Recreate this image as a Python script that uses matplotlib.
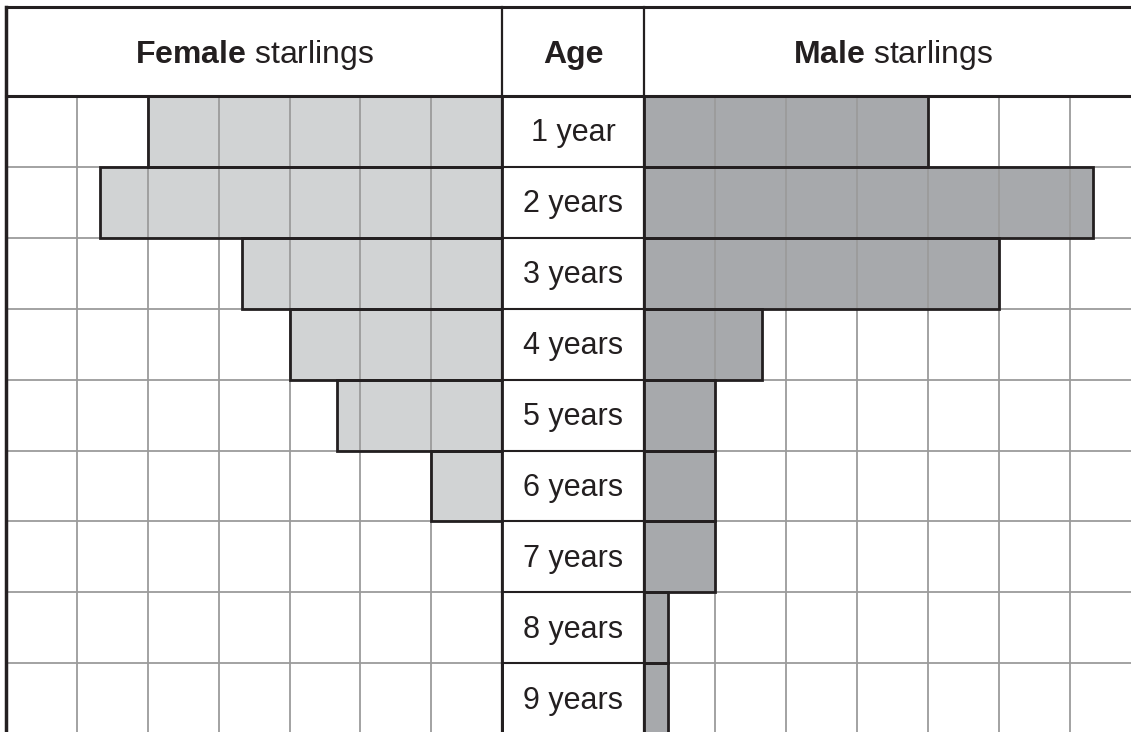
import matplotlib.pyplot as plt
import numpy as np

plt.rcParams['font.family'] = ['Liberation Sans', 'DejaVu Sans']
plt.rcParams['mathtext.fontset'] = 'custom'
plt.rcParams['mathtext.rm'] = 'Liberation Sans'
plt.rcParams['mathtext.bf'] = 'Liberation Sans:bold'

ages = ['1 year', '2 years', '3 years', '4 years', '5 years',
        '6 years', '7 years', '8 years', '9 years']
female = [15, 17, 11, 9, 7, 3, 0, 0, 0]
male = [12, 19, 15, 5, 3, 3, 3, 1, 1]

CELL = 3          # starlings per grid square
AGE_W = 2 * CELL  # width of the age column
N_LEFT = 7        # grid squares on the female side

ink = '#231f20'
grid_c = '#9b9b9b'
f_col = '#d1d3d4'
m_col = '#a7a9ac'

if __name__ == '__main__':
    fig = plt.figure(figsize=(11.31, 7.32), dpi=100)
    ax = fig.add_axes([0, 0, 1, 1])
    ax.axis('off')

    left = -N_LEFT * CELL
    ax.set_xlim(-21.25, 26.60)
    ax.set_ylim(8.97, -1.354)
    top = -1.255
    bottom = 9.2
    rows = np.arange(len(ages)) + 0.5

    # bar fills
    ax.barh(rows, [-v for v in female], left=0, height=1, color=f_col, zorder=1)
    ax.barh(rows, male, left=AGE_W, height=1, color=m_col, zorder=1)

    # grid
    for gx in np.arange(left + CELL, 0, CELL):
        ax.plot([gx, gx], [0, bottom], color=grid_c, lw=1.3, zorder=2)
    for gx in np.arange(AGE_W + CELL, 30, CELL):
        ax.plot([gx, gx], [0, bottom], color=grid_c, lw=1.3, zorder=2)
    for gy in range(1, len(ages) + 1):
        ax.plot([left, 0], [gy, gy], color=grid_c, lw=1.3, zorder=2)
        ax.plot([AGE_W, 30], [gy, gy], color=grid_c, lw=1.3, zorder=2)
        ax.plot([0, AGE_W], [gy, gy], color=ink, lw=1.5, zorder=3)

    # bar outlines
    ax.barh(rows, [-v for v in female], left=0, height=1, fill=False,
            edgecolor=ink, lw=2, zorder=4)
    ax.barh(rows, male, left=AGE_W, height=1, fill=False,
            edgecolor=ink, lw=2, zorder=4)

    # frame
    ax.plot([left, 30], [top, top], color=ink, lw=2.2, zorder=5)
    ax.plot([left, 30], [0, 0], color=ink, lw=2.2, zorder=5)
    ax.plot([left, left], [top, bottom], color=ink, lw=2.5, zorder=5)
    ax.plot([0, 0], [top, bottom], color=ink, lw=1.6, zorder=5)
    ax.plot([AGE_W, AGE_W], [top, bottom], color=ink, lw=1.6, zorder=5)

    # header
    hs = 23
    fs = 22
    hy = -0.465
    ax.text(left / 2, hy, r'$\bf{Female}$ starlings', ha='center', va='baseline',
            fontsize=hs, color=ink)
    ax.text(AGE_W / 2, hy, 'Age', ha='center', va='baseline', fontsize=hs,
            color=ink, fontweight='bold')
    ax.text(16.55, hy, r'$\bf{Male}$ starlings',
            ha='center', va='baseline', fontsize=hs, color=ink)

    for r, lab in zip(rows, ages):
        ax.text(AGE_W / 2, r + 0.14, lab, ha='center', va='baseline',
                fontsize=fs, color=ink)

    fig.savefig('out.png', dpi=100)
